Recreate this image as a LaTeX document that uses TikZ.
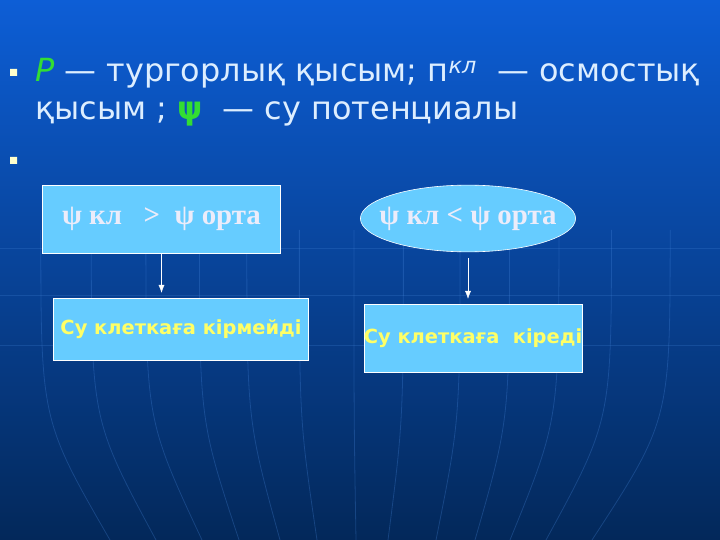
\documentclass[tikz,border=0pt]{standalone}
\usepackage{fontspec}
\setmainfont{Liberation Serif}
\setsansfont{DejaVu Sans}
\usetikzlibrary{shapes.geometric,positioning,arrows.meta}
\definecolor{topblue}{HTML}{0D5ED6}
\definecolor{midblue}{HTML}{0A4AA8}
\definecolor{lowblue}{HTML}{03285A}
\definecolor{gridblue}{HTML}{4A8AE0}
\definecolor{skyfill}{HTML}{66CCFF}
\definecolor{pgreen}{HTML}{33DD33}
\definecolor{paletext}{HTML}{DDEEFF}
\definecolor{lilac}{HTML}{ECECFA}
\definecolor{ylw}{HTML}{FFFF66}
\definecolor{bulletc}{HTML}{FFFFCC}
\begin{document}
\begin{tikzpicture}[x=1bp,y=-1bp,>={Latex[length=8pt,width=6pt]},
    box/.style={draw=white,fill=skyfill,line width=.6pt,inner sep=0pt},
    psitext/.style={font=\fontsize{29}{32}\selectfont\bfseries,text=lilac},
    watertext/.style={font=\sffamily\bfseries\fontsize{19.5}{22}\selectfont,text=ylw},
    headtext/.style={anchor=base west,inner sep=0pt,text=paletext,
      font=\sffamily\fontsize{32}{36}\selectfont}]
    \useasboundingbox (0,0) rectangle (720,540);
    \shade[top color=topblue,middle color=midblue,bottom color=lowblue] (0,0) rectangle (720,540);
    % faint globe lines
    \foreach \y in {248,295,345}
      \draw[gridblue,opacity=.22,line width=.8pt] (0,\y) -- (720,\y);
    \foreach \a/\b in {50/110,99/156,152/202,204/239,250/280,301/317,354/356,
                       402/388,457/436,505/475,553/510,604/546,661/592}
      \draw[gridblue,opacity=.28,line width=.8pt]
        ({356+1.03*(\a-356)},230) .. controls ({356+1.03*(\a-356)},420) .. (\b,540);
    % bullets
    \fill[bulletc] (10,69) rectangle (17,76) (10,157) rectangle (17,164);
    \node[headtext] (lineone) at (35,82)
      {{\color{pgreen}\itshape P} — тургорлық қысым; п\textsuperscript{\itshape кл}\ \ — осмостық};
    \node[headtext] (linetwo) at (35,120)
      {қысым ; {\color{pgreen}\bfseries ψ}\ \ — су потенциалы};
    % boxes
    \node[box,minimum width=239,minimum height=68,psitext] (more) at (161.5,219)
      {ψ кл\ \ \ >\ \ ψ орта};
    \node[box,ellipse,minimum width=216,minimum height=67,
      label={[psitext]center:ψ кл < ψ орта}] (less) at (468,218.5) {};
    \node[box,minimum width=256,minimum height=62,watertext] (notin) at (181,329)
      {Су клеткаға кірмейді};
    \node[box,minimum width=216,minimum height=68,watertext] (goesin) at (473,338)
      {Су клеткаға\ \ кіреді};
    % arrows
    \draw[->,white,shorten >=5pt] (more.south) -- (more.south |- notin.north);
    \draw[->,white,shorten <=6pt,shorten >=5pt] (less.south) -- (less.south |- goesin.north);
\end{tikzpicture}
\end{document}
